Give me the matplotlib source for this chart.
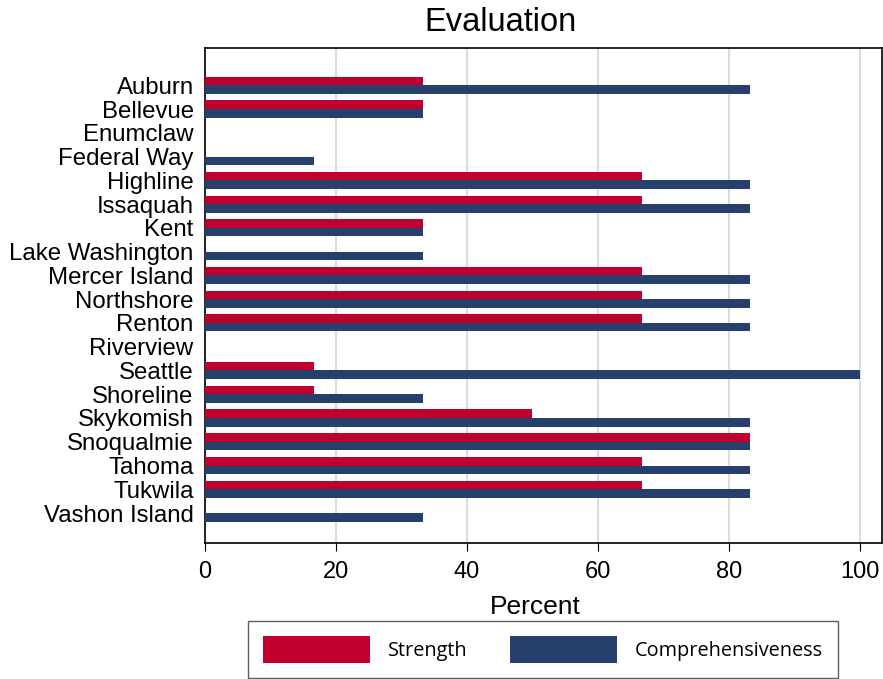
import numpy as np
import matplotlib.pyplot as plt
from matplotlib.patches import Patch

districts = ['Auburn', 'Bellevue', 'Enumclaw', 'Federal Way', 'Highline', 'Issaquah',
             'Kent', 'Lake Washington', 'Mercer Island', 'Northshore', 'Renton',
             'Riverview', 'Seattle', 'Shoreline', 'Skykomish', 'Snoqualmie',
             'Tahoma', 'Tukwila', 'Vashon Island']
strength = [33.3, 33.3, 0, 0, 66.7, 66.7, 33.3, 0, 66.7, 66.7, 66.7,
            0, 16.7, 16.7, 50.0, 83.3, 66.7, 66.7, 0]
comprehensiveness = [83.3, 33.3, 0, 16.7, 83.3, 83.3, 33.3, 33.3, 83.3, 83.3, 83.3,
                     0, 100.0, 33.3, 83.3, 83.3, 83.3, 83.3, 33.3]

red = '#C0002F'
navy = '#263F6C'

plt.rcParams['font.family'] = ['Liberation Sans', 'DejaVu Sans']

fig = plt.figure(figsize=(8.83, 6.79), dpi=100)
ax = fig.add_axes([0.232, 0.2003, 0.7669, 0.7287])

y = np.arange(len(districts))
h = 0.36
ax.barh(y - h / 2, strength, height=h, color=red, linewidth=0, zorder=3)
ax.barh(y + h / 2, comprehensiveness, height=h, color=navy, linewidth=0, zorder=3)

ax.set_ylim(len(districts) - 1 + 1.26, -1.56)
ax.set_xlim(0, 103.4)
ax.set_yticks(y)
ax.set_yticklabels(districts, fontsize=17.3)
ax.tick_params(axis='y', length=0, pad=8)
ax.set_xticks([0, 20, 40, 60, 80, 100])
ax.tick_params(axis='x', labelsize=17, length=6, direction='out', pad=7)
ax.grid(axis='x', color='#dcdcdc', linewidth=1.5, zorder=0)
for s in ax.spines.values():
    s.set_linewidth(1.2)
ax.set_xlabel('Percent', fontsize=19, labelpad=9)
ax.xaxis.set_label_coords(0.488, -0.105)
fig.text(0.567, 0.967, 'Evaluation', fontsize=23.5, ha='center', va='center')

handles = [Patch(facecolor=red, label='Strength'),
           Patch(facecolor=navy, label='Comprehensiveness')]
leg = fig.legend(handles=handles, loc='center', bbox_to_anchor=(0.615, 0.0434), ncol=2,
                 frameon=True, fancybox=False, edgecolor='#333333',
                 handlelength=5.4, handleheight=1.75, handletextpad=0.9, columnspacing=2.1,
                 borderpad=0.75, borderaxespad=0, prop={'family': 'Open Sans', 'size': 14.3})
leg.get_frame().set_linewidth(1.0)

fig.savefig('out.png', dpi=100)
